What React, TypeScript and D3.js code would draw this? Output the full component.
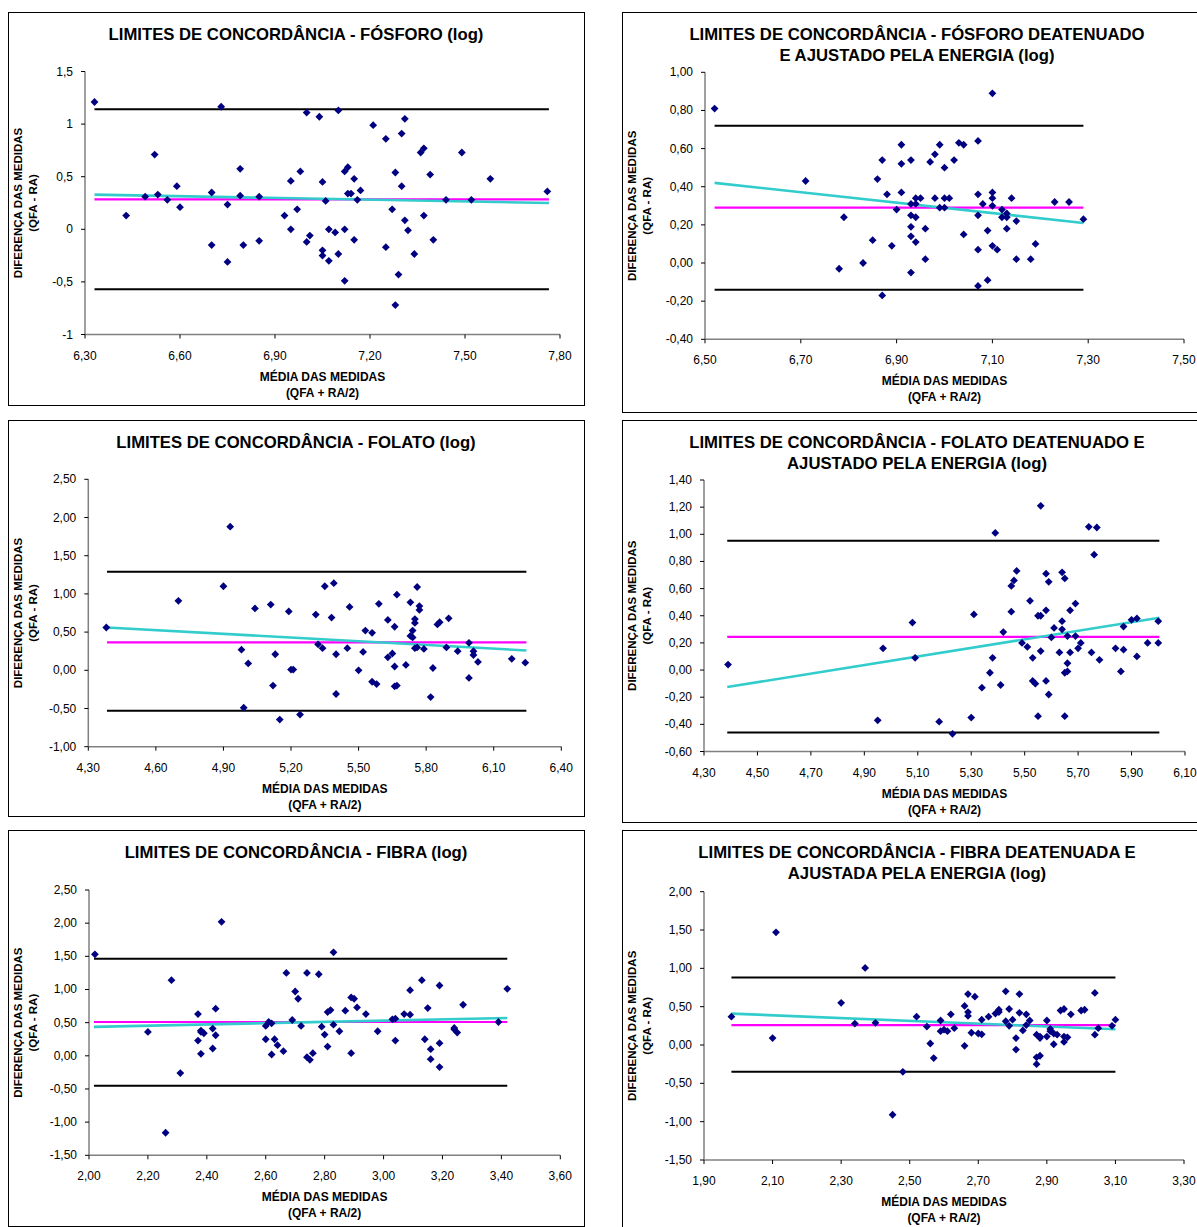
import React from 'react';
import * as d3 from 'd3';

type Pt = [number, number];

// ---- dados ----
const fosforoPts: Pt[] = [
  [6.33, 1.21], [6.73, 1.165], [7.0, 1.11], [7.04, 1.07], [6.52, 0.71], [6.79, 0.575], [6.98, 0.55],
  [6.95, 0.46], [7.05, 0.45], [6.59, 0.41], [6.7, 0.35], [6.49, 0.31], [6.53, 0.33], [6.79, 0.32],
  [6.85, 0.31], [6.56, 0.28], [7.06, 0.27], [6.75, 0.235], [6.6, 0.21], [6.43, 0.13], [6.93, 0.13],
  [6.97, 0.19], [6.95, 0.0], [7.07, 0.0], [7.01, -0.06], [7.0, -0.12], [6.7, -0.15], [6.8, -0.15],
  [6.85, -0.11], [7.05, -0.2], [7.05, -0.25], [7.07, -0.3], [6.75, -0.31],
  [7.1, 1.13], [7.21, 0.99], [7.31, 1.05], [7.25, 0.86], [7.3, 0.91], [7.36, 0.73], [7.37, 0.77],
  [7.49, 0.73], [7.12, 0.55], [7.13, 0.59], [7.15, 0.48], [7.28, 0.54], [7.39, 0.52], [7.58, 0.48],
  [7.3, 0.41], [7.17, 0.37], [7.13, 0.34], [7.14, 0.34], [7.76, 0.36], [7.16, 0.28], [7.44, 0.28],
  [7.52, 0.28], [7.27, 0.19], [7.37, 0.13], [7.31, 0.085], [7.09, -0.03], [7.12, 0.0], [7.32, -0.01],
  [7.15, -0.1], [7.4, -0.1], [7.25, -0.17], [7.1, -0.235], [7.34, -0.235], [7.29, -0.43],
  [7.12, -0.49], [7.28, -0.72],
];

const fosforoAjPts: Pt[] = [
  [6.52, 0.81], [6.71, 0.43], [6.79, 0.24], [6.78, -0.03], [6.83, 0.0], [6.85, 0.12], [6.87, -0.17],
  [6.87, 0.54], [6.86, 0.44], [6.88, 0.36], [6.89, 0.09], [6.9, 0.28], [6.91, 0.62], [6.91, 0.52],
  [6.91, 0.37], [6.93, 0.54], [6.93, 0.31], [6.93, 0.25], [6.93, 0.19], [6.93, 0.14], [6.93, -0.05],
  [6.94, 0.34], [6.94, 0.31], [6.94, 0.24], [6.94, 0.11], [6.95, 0.34], [6.96, 0.18], [6.96, 0.02],
  [6.97, 0.53], [6.98, 0.57], [6.98, 0.34], [6.99, 0.62], [6.99, 0.29], [7.0, 0.5], [7.0, 0.34],
  [7.0, 0.29], [7.01, 0.34], [7.1, 0.89], [7.03, 0.63], [7.04, 0.62], [7.07, 0.64], [7.02, 0.54],
  [7.07, 0.36], [7.1, 0.37], [7.1, 0.34], [7.14, 0.34], [7.08, 0.31], [7.1, 0.3], [7.12, 0.28],
  [7.13, 0.26], [7.12, 0.24], [7.13, 0.24], [7.15, 0.22], [7.07, 0.25], [7.13, 0.18], [7.09, 0.17],
  [7.04, 0.15], [7.07, 0.07], [7.1, 0.09], [7.11, 0.07], [7.19, 0.1], [7.15, 0.02], [7.18, 0.02],
  [7.07, -0.12], [7.09, -0.09], [7.23, 0.32], [7.26, 0.32], [7.29, 0.23],
];

const folatoPts: Pt[] = [
  [4.38, 0.56], [4.7, 0.91], [4.93, 1.88], [4.9, 1.1], [5.04, 0.81], [5.11, 0.86], [5.19, 0.77],
  [5.35, 1.1], [5.31, 0.73], [4.98, 0.27], [5.01, 0.09], [5.13, 0.21], [5.2, 0.01], [5.21, 0.01],
  [5.12, -0.2], [4.99, -0.49], [5.15, -0.645], [5.24, -0.58], [5.32, 0.34], [5.34, 0.29],
  [5.39, 1.14], [5.38, 0.69], [5.46, 0.83], [5.53, 0.52], [5.56, 0.49], [5.59, 0.87], [5.63, 0.66],
  [5.66, 0.57], [5.67, 0.99], [5.73, 0.89], [5.76, 1.09], [5.77, 0.84], [5.77, 0.79], [5.75, 0.67],
  [5.75, 0.62], [5.74, 0.52], [5.73, 0.45], [5.74, 0.43], [5.85, 0.6], [5.86, 0.63], [5.9, 0.68],
  [5.99, 0.36], [5.4, 0.21], [5.45, 0.29], [5.52, 0.24], [5.5, 0.0], [5.56, -0.15], [5.58, -0.18],
  [5.63, 0.17], [5.65, 0.22], [5.66, 0.05], [5.66, -0.21], [5.67, -0.2], [5.71, 0.07], [5.75, 0.29],
  [5.76, 0.3], [5.79, 0.28], [5.83, 0.03], [5.82, -0.35], [5.4, -0.31], [5.89, 0.3], [5.94, 0.25],
  [6.01, 0.25], [6.01, 0.2], [6.03, 0.11], [5.99, -0.1], [6.18, 0.15], [6.24, 0.1],
];

const folatoAjPts: Pt[] = [
  [4.39, 0.04], [4.95, -0.37], [4.97, 0.16], [5.08, 0.35], [5.09, 0.09], [5.18, -0.38], [5.23, -0.47],
  [5.3, -0.35], [5.31, 0.41], [5.39, 1.01], [5.34, -0.13], [5.37, -0.02], [5.38, 0.09], [5.41, -0.11],
  [5.42, 0.28], [5.45, 0.43], [5.45, 0.62], [5.46, 0.66], [5.47, 0.73], [5.49, 0.2], [5.51, 0.17],
  [5.52, 0.51], [5.53, 0.09], [5.53, -0.08], [5.54, -0.1], [5.55, -0.34], [5.55, 0.4], [5.56, 0.4],
  [5.56, 0.14], [5.56, 1.21], [5.58, 0.71], [5.59, 0.65], [5.58, 0.44], [5.58, -0.08], [5.59, -0.18],
  [5.6, 0.24], [5.61, 0.31], [5.63, 0.13], [5.64, 0.72], [5.65, 0.675], [5.64, 0.36], [5.64, 0.3],
  [5.66, 0.25], [5.66, 0.05], [5.65, -0.02], [5.66, -0.01], [5.65, -0.34], [5.67, 0.44], [5.67, 0.13],
  [5.69, 0.49], [5.69, 0.25], [5.7, 0.16], [5.71, 0.2], [5.74, 1.055], [5.77, 1.05], [5.76, 0.85],
  [5.75, 0.13], [5.78, 0.075], [5.84, 0.16], [5.86, -0.01], [5.87, 0.15], [5.87, 0.32], [5.9, 0.37],
  [5.92, 0.38], [5.92, 0.1], [5.96, 0.2], [6.0, 0.36], [6.0, 0.2],
];

const fibraPts: Pt[] = [
  [2.02, 1.53], [2.2, 0.36], [2.28, 1.14], [2.31, -0.26], [2.26, -1.16], [2.45, 2.02], [2.37, 0.63],
  [2.38, 0.38], [2.38, 0.36], [2.39, 0.34], [2.37, 0.23], [2.38, 0.03], [2.42, 0.41], [2.43, 0.31],
  [2.42, 0.11], [2.43, 0.71], [2.6, 0.45], [2.61, 0.51], [2.62, 0.49], [2.6, 0.25], [2.63, 0.25],
  [2.64, 0.16], [2.62, 0.02], [2.66, 0.07], [2.67, 1.25], [2.7, 0.97], [2.71, 0.86], [2.69, 0.54],
  [2.72, 0.45], [2.74, 1.25], [2.78, 1.23], [2.74, -0.02], [2.75, -0.06], [2.76, 0.04], [2.79, 0.44],
  [2.8, 0.32], [2.81, 0.14], [2.81, 0.66], [2.83, 1.56], [2.82, 0.69], [2.87, 0.68], [2.89, 0.88],
  [2.9, 0.86], [2.91, 0.73], [2.94, 0.63], [2.83, 0.47], [2.85, 0.37], [2.89, 0.04], [2.98, 0.37],
  [3.03, 0.55], [3.04, 0.56], [3.07, 0.63], [3.09, 0.62], [3.04, 0.23], [3.09, 0.99], [3.13, 1.14],
  [3.19, 1.06], [3.15, 0.72], [3.14, 0.25], [3.16, 0.1], [3.16, -0.05], [3.19, 0.19], [3.19, -0.17],
  [3.24, 0.42], [3.24, 0.4], [3.25, 0.35], [3.27, 0.77], [3.39, 0.51], [3.42, 1.01],
];

const fibraAjPts: Pt[] = [
  [1.98, 0.37], [2.11, 1.47], [2.1, 0.09], [2.3, 0.55], [2.34, 0.28], [2.37, 1.005], [2.4, 0.29],
  [2.45, -0.91], [2.48, -0.35], [2.52, 0.37], [2.55, 0.24], [2.56, 0.02], [2.57, -0.17], [2.59, 0.32],
  [2.59, 0.18], [2.6, 0.2], [2.61, 0.18], [2.62, 0.4], [2.63, 0.22], [2.66, 0.51], [2.67, 0.665],
  [2.67, 0.43], [2.67, 0.38], [2.66, -0.01], [2.68, 0.16], [2.69, 0.63], [2.7, 0.15], [2.71, 0.14],
  [2.71, 0.33], [2.73, 0.37], [2.75, 0.41], [2.76, 0.43], [2.76, 0.46], [2.78, 0.7], [2.78, 0.31],
  [2.79, 0.47], [2.79, 0.25], [2.8, 0.33], [2.81, 0.09], [2.81, -0.06], [2.82, 0.665], [2.82, 0.42],
  [2.83, 0.19], [2.84, 0.4], [2.84, 0.26], [2.85, 0.32], [2.87, 0.135], [2.88, 0.11], [2.88, 0.09],
  [2.87, -0.16], [2.88, -0.14], [2.87, -0.25], [2.9, 0.32], [2.9, 0.11], [2.91, 0.21], [2.91, 0.18],
  [2.92, 0.15], [2.93, 0.135], [2.92, 0.01], [2.94, 0.45], [2.95, 0.47], [2.95, 0.11], [2.95, 0.04],
  [2.96, 0.1], [2.97, 0.4], [3.0, 0.45], [3.01, 0.46], [3.04, 0.68], [3.04, 0.135], [3.05, 0.22],
  [3.09, 0.25], [3.1, 0.33],
];

// limites: [média, limite superior, limite inferior]
const fosforoLim = [0.285, 1.14, -0.57];
const fosforoAjLim = [0.29, 0.72, -0.14];
const folatoLim = [0.366, 1.29, -0.53];
const folatoAjLim = [0.245, 0.952, -0.46];
const fibraLim = [0.51, 1.465, -0.45];
const fibraAjLim = [0.26, 0.88, -0.35];

// tendência: [[x0, y0], [x1, y1]]
const fosforoTend: Pt[] = [[6.33, 0.33], [7.765, 0.25]];
const fosforoAjTend: Pt[] = [[6.52, 0.42], [7.29, 0.21]];
const folatoTend: Pt[] = [[4.383, 0.56], [6.245, 0.26]];
const folatoAjTend: Pt[] = [[4.387, -0.125], [6.004, 0.385]];
const fibraTend: Pt[] = [[2.017, 0.437], [3.42, 0.57]];
const fibraAjTend: Pt[] = [[1.98, 0.41], [3.1, 0.205]];

const xTicksFosforo = [6.3, 6.6, 6.9, 7.2, 7.5, 7.8];
const yTicksFosforo = [-1, -0.5, 0, 0.5, 1, 1.5];
const xTicksFosforoAj = [6.5, 6.7, 6.9, 7.1, 7.3, 7.5];
const yTicksFosforoAj = [-0.4, -0.2, 0, 0.2, 0.4, 0.6, 0.8, 1.0];
const xTicksFolato = [4.3, 4.6, 4.9, 5.2, 5.5, 5.8, 6.1, 6.4];
const yTicksFolato = [-1, -0.5, 0, 0.5, 1, 1.5, 2, 2.5];
const xTicksFolatoAj = [4.3, 4.5, 4.7, 4.9, 5.1, 5.3, 5.5, 5.7, 5.9, 6.1];
const yTicksFolatoAj = [-0.6, -0.4, -0.2, 0, 0.2, 0.4, 0.6, 0.8, 1.0, 1.2, 1.4];
const xTicksFibra = [2.0, 2.2, 2.4, 2.6, 2.8, 3.0, 3.2, 3.4, 3.6];
const yTicksFibra = [-1.5, -1, -0.5, 0, 0.5, 1, 1.5, 2, 2.5];
const xTicksFibraAj = [1.9, 2.1, 2.3, 2.5, 2.7, 2.9, 3.1, 3.3];
const yTicksFibraAj = [-1.5, -1, -0.5, 0, 0.5, 1, 1.5, 2];

const comma2 = (v: number) => d3.format('.2f')(v).replace('.', ',').replace('−', '-');
const general = (v: number) => String(+v.toFixed(2)).replace('.', ',');

interface Panel {
  title: string[];
  pts: Pt[];
  lim: number[];
  tend: Pt[];
  xTicks: number[];
  yTicks: number[];
  yFmt: (v: number) => string;
  frame: [number, number, number, number];
  plot: [number, number, number, number]; // left, top, right, bottom
}

const panels: Panel[] = [
  {
    title: ['LIMITES DE CONCORDÂNCIA - FÓSFORO (log)'],
    pts: fosforoPts, lim: fosforoLim, tend: fosforoTend,
    xTicks: xTicksFosforo, yTicks: yTicksFosforo, yFmt: general,
    frame: [8, 12, 584, 405], plot: [85, 71.5, 560, 334.5],
  },
  {
    title: ['LIMITES DE CONCORDÂNCIA - FÓSFORO DEATENUADO', 'E AJUSTADO PELA ENERGIA (log)'],
    pts: fosforoAjPts, lim: fosforoAjLim, tend: fosforoAjTend,
    xTicks: xTicksFosforoAj, yTicks: yTicksFosforoAj, yFmt: comma2,
    frame: [622, 12, 1212, 412], plot: [705, 72.3, 1184, 339.3],
  },
  {
    title: ['LIMITES DE CONCORDÂNCIA - FOLATO (log)'],
    pts: folatoPts, lim: folatoLim, tend: folatoTend,
    xTicks: xTicksFolato, yTicks: yTicksFolato, yFmt: comma2,
    frame: [8, 420, 584, 816], plot: [88.3, 479.3, 561.3, 746.7],
  },
  {
    title: ['LIMITES DE CONCORDÂNCIA - FOLATO DEATENUADO E', 'AJUSTADO PELA ENERGIA (log)'],
    pts: folatoAjPts, lim: folatoAjLim, tend: folatoAjTend,
    xTicks: xTicksFolatoAj, yTicks: yTicksFolatoAj, yFmt: comma2,
    frame: [622, 420, 1212, 822], plot: [704, 480, 1185, 751.5],
  },
  {
    title: ['LIMITES DE CONCORDÂNCIA - FIBRA (log)'],
    pts: fibraPts, lim: fibraLim, tend: fibraTend,
    xTicks: xTicksFibra, yTicks: yTicksFibra, yFmt: comma2,
    frame: [8, 830, 584, 1226], plot: [89, 890, 560.3, 1155.3],
  },
  {
    title: ['LIMITES DE CONCORDÂNCIA - FIBRA DEATENUADA E', 'AJUSTADA PELA ENERGIA (log)'],
    pts: fibraAjPts, lim: fibraAjLim, tend: fibraAjTend,
    xTicks: xTicksFibraAj, yTicks: yTicksFibraAj, yFmt: comma2,
    frame: [622, 830, 1212, 1240], plot: [704, 891.7, 1184, 1160],
  },
];

const FONT = '"Liberation Sans", Arial, sans-serif';
const diamond = 'M0,-3.9L3.9,0L0,3.9L-3.9,0Z';

const Chart: React.FC<{ p: Panel }> = ({ p }) => {
  const [l, t, r, b] = p.plot;
  const x = d3.scaleLinear().domain(d3.extent(p.xTicks) as [number, number]).range([l, r]);
  const y = d3.scaleLinear().domain(d3.extent(p.yTicks) as [number, number]).range([b, t]);
  const x0 = p.tend[0][0];
  const x1 = p.tend[1][0];
  const line = d3.line<Pt>().x(d => x(d[0])).y(d => y(d[1]));
  const [fl, ft, fr, fb] = p.frame;
  const cx = (fl + fr) / 2;
  const midY = (t + b) / 2;
  const xTitleX = (l + r) / 2;
  return (
    <g>
      <rect x={fl + 0.5} y={ft + 0.5} width={fr - fl} height={fb - ft} fill="#fff" stroke="#000" strokeWidth={1} />
      {p.title.map((s, i) => (
        <text key={i} x={cx} y={ft + 28 + i * 21} textAnchor="middle" fontFamily={FONT} fontWeight="bold" fontSize={16.7}>{s}</text>
      ))}
      {/* eixos */}
      <line x1={l} x2={l} y1={t} y2={b} stroke="#808080" strokeWidth={1.5} />
      <line x1={l} x2={r} y1={b} y2={b} stroke="#808080" strokeWidth={1.5} />
      {p.yTicks.map(v => (
        <g key={'y' + v}>
          <line x1={l - 4} x2={l} y1={y(v)} y2={y(v)} stroke="#000" />
          <text x={l - 12} y={y(v) + 4} textAnchor="end" fontFamily={FONT} fontSize={12}>{p.yFmt(v)}</text>
        </g>
      ))}
      {p.xTicks.map(v => (
        <g key={'x' + v}>
          <line x1={x(v)} x2={x(v)} y1={b} y2={b + 4} stroke="#000" />
          <text x={x(v)} y={b + 25} textAnchor="middle" fontFamily={FONT} fontSize={12}>{comma2(v)}</text>
        </g>
      ))}
      <text x={xTitleX} y={b + 46} textAnchor="middle" fontFamily={FONT} fontWeight="bold" fontSize={12}>MÉDIA DAS MEDIDAS</text>
      <text x={xTitleX} y={b + 62} textAnchor="middle" fontFamily={FONT} fontWeight="bold" fontSize={12}>(QFA + RA/2)</text>
      <text transform={`translate(${fl + 14},${midY}) rotate(-90)`} textAnchor="middle" fontFamily={FONT} fontWeight="bold" fontSize={11.5}>DIFERENÇA DAS MEDIDAS</text>
      <text transform={`translate(${fl + 29},${midY}) rotate(-90)`} textAnchor="middle" fontFamily={FONT} fontWeight="bold" fontSize={11.5}>(QFA - RA)</text>
      {/* limites de concordância */}
      {[p.lim[1], p.lim[2]].map((v, i) => (
        <line key={'lim' + i} x1={x(x0)} x2={x(x1)} y1={y(v)} y2={y(v)} stroke="#000" strokeWidth={2} />
      ))}
      <line x1={x(x0)} x2={x(x1)} y1={y(p.lim[0])} y2={y(p.lim[0])} stroke="#ff00ff" strokeWidth={2.2} />
      <path d={line(p.tend) || ''} stroke="#33cccc" strokeWidth={2.6} fill="none" />
      {p.pts.map((d, i) => (
        <path key={i} d={diamond} transform={`translate(${x(d[0])},${y(d[1])})`} fill="#000080" />
      ))}
    </g>
  );
};

export default function App() {
  return (
    <svg width={1197} height={1227} style={{ position: 'absolute', left: 0, top: 0, background: '#fff' }}>
      {panels.map((p, i) => <Chart key={i} p={p} />)}
    </svg>
  );
}
